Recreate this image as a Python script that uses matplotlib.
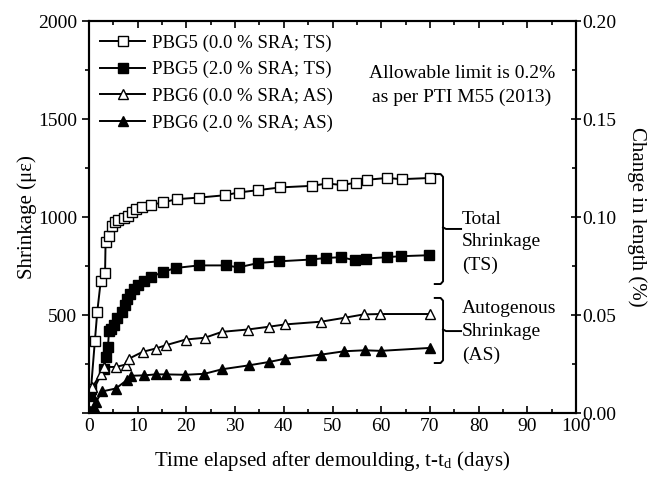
import numpy as np
import matplotlib
matplotlib.use("Agg")
import matplotlib.pyplot as plt

# Shrinkage data (days, microstrain)
pbg5_0_days = [0.4, 1.2, 1.7, 2.4, 3.3, 3.4, 4.1, 4.8, 5.4, 6.0, 7.1, 8.0, 8.9, 9.7, 10.8,
               12.7, 15.1, 18.0, 22.6, 27.9, 30.7, 34.7, 39.3, 45.8, 48.9, 52.0, 54.9,
               57.0, 61.2, 64.2, 70.0]
pbg5_0_vals = [120, 366, 517, 671, 714, 872, 902, 954, 976, 983, 993, 1005, 1027, 1039, 1051,
               1062, 1074, 1091, 1099, 1111, 1125, 1137, 1151, 1159, 1171, 1163, 1176,
               1190, 1199, 1193, 1199]

pbg5_2_days = [0.3, 3.1, 3.4, 3.9, 4.1, 4.6, 5.1, 5.8, 6.7, 7.3, 7.9, 8.4, 9.3, 10.1, 11.2,
               12.7, 15.1, 17.8, 22.6, 28.1, 30.7, 34.7, 39.1, 45.6, 48.7, 51.8, 54.6,
               56.8, 61.2, 64.0, 69.9]
pbg5_2_vals = [89, 226, 286, 339, 416, 430, 449, 483, 517, 551, 582, 608, 634, 654, 676,
               693, 719, 740, 753, 753, 743, 765, 774, 783, 791, 795, 779,
               788, 795, 800, 805]

pbg6_0_days = [0.7, 2.4, 3.1, 5.5, 7.5, 8.2, 11.0, 13.7, 15.8, 19.9, 23.8, 27.3, 32.6,
               36.9, 40.3, 47.7, 52.5, 56.4, 59.8, 70.0]
pbg6_0_vals = [132, 200, 235, 235, 247, 277, 312, 329, 346, 375, 384, 414, 426,
               440, 452, 466, 486, 503, 505, 505]

pbg6_2_days = [0.3, 1.0, 1.4, 2.7, 5.5, 7.9, 8.6, 11.3, 13.7, 15.9, 19.8, 23.7, 27.3,
               32.8, 36.9, 40.3, 47.7, 52.4, 56.6, 59.9, 70.0]
pbg6_2_vals = [12, 29, 55, 110, 125, 170, 190, 192, 197, 197, 195, 200, 223,
               243, 260, 277, 298, 315, 320, 317, 332]

labels = ["PBG5 (0.0 % SRA; TS)", "PBG5 (2.0 % SRA; TS)",
          "PBG6 (0.0 % SRA; AS)", "PBG6 (2.0 % SRA; AS)"]

plt.rcParams['font.family'] = ['Liberation Serif', 'DejaVu Serif']
plt.rcParams['mathtext.fontset'] = 'stix'

fig = plt.figure(figsize=(6.63, 4.78), dpi=100)
ax = fig.add_axes([89 / 663, 1 - 413 / 478, (576 - 89) / 663, (413 - 21) / 478])

ms = 6.5
lw = 1.4
ax.plot(pbg5_0_days, pbg5_0_vals, '-s', color='black', mfc='white', mec='black',
        ms=ms, lw=lw, label=labels[0])
ax.plot(pbg5_2_days, pbg5_2_vals, '-s', color='black', mfc='black', mec='black',
        ms=ms, lw=lw, label=labels[1])
ax.plot(pbg6_0_days, pbg6_0_vals, '-^', color='black', mfc='white', mec='black',
        ms=ms + 0.8, lw=lw, label=labels[2])
ax.plot(pbg6_2_days, pbg6_2_vals, '-^', color='black', mfc='black', mec='black',
        ms=ms + 0.8, lw=lw, label=labels[3])

ax.set_xlim(0, 100)
ax.set_ylim(0, 2000)
ax.set_xticks(np.arange(0, 101, 10))
ax.set_xticks(np.arange(5, 100, 10), minor=True)
ax.set_yticks([0, 500, 1000, 1500, 2000])
ax.set_yticklabels(['', '500', '1000', '1500', '2000'])
ax.set_yticks([250, 750, 1250, 1750], minor=True)
ax.tick_params(axis='x', which='both', direction='in', top=True, labelsize=14, width=1.2)
ax.tick_params(axis='x', which='major', length=5)
ax.tick_params(axis='x', which='minor', length=3)
ax.tick_params(axis='y', which='major', direction='out', length=5, width=1.2, labelsize=14)
ax.tick_params(axis='y', which='minor', direction='out', length=3, width=1.2)
for s in ax.spines.values():
    s.set_linewidth(1.5)

ax.set_xlabel('Time elapsed after demoulding, t-t$_\\mathregular{d}$ (days)', fontsize=15, labelpad=10)
ax.set_ylabel('Shrinkage (\u03bc\u03b5)', fontsize=15, labelpad=1)

ax2 = ax.twinx()
ax2.set_ylim(0, 0.20)
ax2.set_yticks([0, 0.05, 0.10, 0.15, 0.20])
ax2.set_yticklabels(['0.00', '0.05', '0.10', '0.15', '0.20'])
ax2.set_yticks([0.025, 0.075, 0.125, 0.175], minor=True)
ax2.tick_params(axis='y', which='major', direction='inout', length=7, width=1.2, labelsize=14, pad=1)
ax2.tick_params(axis='y', which='minor', direction='in', length=3, width=1.2)
ax2.set_ylabel('Change in length (%)', fontsize=15, rotation=270, labelpad=22)
for s in ax2.spines.values():
    s.set_linewidth(1.5)

ax.legend(loc='upper left', frameon=False, fontsize=13.5, handlelength=2.4,
          handletextpad=0.35, labelspacing=0.5, borderaxespad=0.2,
          bbox_to_anchor=(0.0, 0.995))

ax.text(76.6, 1671, 'Allowable limit is 0.2%\nas per PTI M55 (2013)', ha='center',
        va='center', fontsize=14, linespacing=1.5)


def brace(y_top, y_bot, y_mid):
    x0, x1, x2 = 71.0, 72.7, 76.4
    r = 14
    ax.plot([x0, x1 - 0.5, x1, x1, x1 - 0.5, x0],
            [y_top, y_top, y_top - r, y_bot + r, y_bot, y_bot], color='black', lw=1.4)
    ax.plot([x1, x1 + 0.6, x2], [y_mid, y_mid - 8, y_mid - 8], color='black', lw=1.4)


brace(1219, 658, 947)
brace(587, 255, 426)
ax.text(76.6, 872, 'Total\nShrinkage\n(TS)', ha='left', va='center', fontsize=14, linespacing=1.45)
ax.text(76.6, 413, 'Autogenous\nShrinkage\n(AS)', ha='left', va='center', fontsize=14, linespacing=1.45)

fig.savefig('out.png', dpi=100)
